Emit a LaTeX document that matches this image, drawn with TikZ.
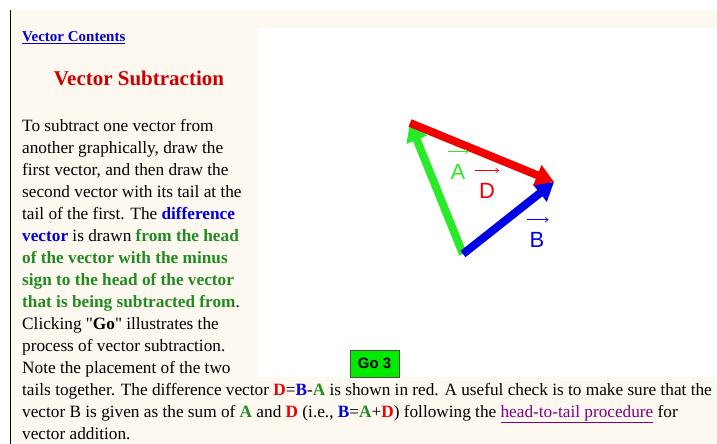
\documentclass[tikz,border=0pt]{standalone}
\usepackage{fontspec}
\setmainfont{Liberation Serif}
\newfontfamily\labelsans{Liberation Sans}
\usetikzlibrary{arrows.meta,positioning}
\definecolor{pagecream}{RGB}{253,248,240}
\definecolor{linkblue}{RGB}{0,0,204}
\definecolor{titlered}{RGB}{204,0,0}
\definecolor{termblue}{RGB}{0,0,220}
\definecolor{termgreen}{RGB}{34,139,34}
\definecolor{vecgreen}{RGB}{40,235,40}
\definecolor{vecred}{RGB}{240,0,0}
\definecolor{vecblue}{RGB}{0,0,230}
\definecolor{visitpurple}{RGB}{128,0,128}
\definecolor{gogreen}{RGB}{0,235,0}
\newcommand{\termA}{\textcolor{termgreen}{\textbf{A}}}
\newcommand{\termB}{\textcolor{termblue}{\textbf{B}}}
\newcommand{\termD}{\textcolor{vecred}{\textbf{D}}}

\begin{document}
\begin{tikzpicture}[x=1pt,y=-1pt,
  body/.style={anchor=base west,inner sep=0pt,font=\fontsize{17.25}{20}\selectfont},
  veclabel/.style={anchor=base,inner sep=0pt,font=\labelsans\fontsize{22}{22}\selectfont},
  overarrow/.style={line width=.6pt,-{Straight Barb[length=3pt,width=5pt]}},
  vecline/.style={line width=8pt,-{Triangle[length=18pt,width=21pt]}}]
\useasboundingbox (0,0) rectangle (717,444);
\clip (0,0) rectangle (717,444);
% page and canvas
\fill[pagecream] (11,10) rectangle (717,444);
\fill[white] (258,28) rectangle (717,377);
\draw[line width=1.5pt] (10.5,10) -- (10.5,444);

% heading
\node[body,font=\bfseries\fontsize{15}{15}\selectfont,text=linkblue] (contents) at (22,42) {\underline{Vector Contents}};
\node[anchor=base,inner sep=0pt,font=\bfseries\fontsize{21}{21}\selectfont,text=titlered] (title) at (139,85) {Vector Subtraction};

% left column
\node[body] (txt1) at (22,131) {To subtract one vector from};
\node[body] (txt2) at (22,153) {another graphically, draw the};
\node[body] (txt3) at (22,175) {first vector, and then draw the};
\node[body] (txt4) at (22,197) {second vector with its tail at the};
\node[body] (txt5) at (22,219) {tail of the first. The \textcolor{termblue}{\textbf{difference}}};
\node[body] (txt6) at (22,241) {\textcolor{termblue}{\textbf{vector}} is drawn \textcolor{termgreen}{\textbf{from the head}}};
\node[body] (txt7) at (22,263) {\textcolor{termgreen}{\textbf{of the vector with the minus}}};
\node[body] (txt8) at (22,285) {\textcolor{termgreen}{\textbf{sign to the head of the vector}}};
\node[body] (txt9) at (22,307) {\textcolor{termgreen}{\textbf{that is being subtracted from}}.};
\node[body] (txt10) at (22,329) {Clicking \textquotedbl\textbf{Go}\textquotedbl{} illustrates the};
\node[body] (txt11) at (22,351) {process of vector subtraction.};
\node[body] (txt12) at (22,373) {Note the placement of the two};

% full width lines
\node[body] (txt13) at (22,395) {tails together. The difference vector \termD=\termB-\termA{} is shown in red. A useful check is to make sure that the};
\node[body] (txt14) at (22,417) {vector B is given as the sum of \termA{} and \termD{} (i.e., \termB=\termA+\termD) following the \textcolor{visitpurple}{\underline{head-to-tail procedure}} for};
\node[body] (txt15) at (22,439) {vector addition.};

% vectors
\coordinate (tails) at (463,254);
\coordinate (headA) at (410,123);
\coordinate (headB) at (554,182);
\draw[vecline,vecgreen] (tails) -- (headA);
\draw[vecline,vecblue] (tails) -- (headB);
\draw[vecline,vecred] (headA) -- (headB);
\node[veclabel,text=vecgreen] (labA) at (458,179) {A};
\node[veclabel,text=vecred] (labD) at (487,198) {D};
\node[veclabel,text=vecblue] (labB) at (537,247) {B};
\draw[overarrow,vecgreen] ([xshift=-2pt,yshift=12pt]labA.north west) -- ([xshift=3pt,yshift=12pt]labA.north east);
\draw[overarrow,vecred] ([xshift=-4pt,yshift=12pt]labD.north west) -- ([xshift=4pt,yshift=12pt]labD.north east);
\draw[overarrow,vecblue] ([xshift=-2pt,yshift=12pt]labB.north west) -- ([xshift=4pt,yshift=12pt]labB.north east);

% button
\node[draw=black!70,line width=1pt,fill=gogreen,inner sep=0pt,minimum width=49pt,minimum height=27pt,font=\labelsans\bfseries\fontsize{15}{15}\selectfont] (go) at (374.5,363.5) {Go 3};
\end{tikzpicture}
\end{document}
